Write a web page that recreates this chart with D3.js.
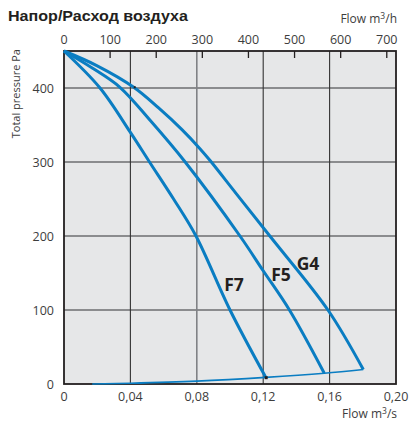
<!DOCTYPE html>
<html><head><meta charset="utf-8">
<script src="https://cdn.jsdelivr.net/npm/d3@7"></script>
<style>
html,body{margin:0;padding:0;background:#fff;}
text{font-family:"Open Sans","Noto Sans",sans-serif;}
</style></head>
<body>
<svg id="c" width="409" height="426"></svg>
<script>
// ---- data (flow m3/s, total pressure Pa) ----
const seriesNames = ["G4", "F5", "F7"];
const g4 = [[0,450],[0.02,430],[0.042,401],[0.057,373],[0.0709,344],[0.0819,318],[0.088,302],[0.1035,258],[0.124,200],[0.159,100],[0.1803,19.6]];
const f5 = [[0,450],[0.017,427],[0.0337,401],[0.052,356],[0.073,300],[0.106,200],[0.12,153],[0.1358,100],[0.1568,14.6]];
const f7 = [[0,450],[0.0217,400],[0.04,340],[0.0515,300],[0.066,250],[0.0795,200],[0.100,100],[0.1215,9.2]];
const systemCurve = [[0.017,0],[0.04,1],[0.08,3.9],[0.1215,9],[0.1568,14.6],[0.1803,19.6]];
const labelPos = [[0.147,154],[0.1307,139],[0.1024,126]]; // label anchor (flow, Pa) for G4, F5, F7
const xTicks = [0, 0.04, 0.08, 0.12, 0.16, 0.20];
const xTickLabels = ["0","0,04","0,08","0,12","0,16","0,20"];
const yTicks = [0, 100, 200, 300, 400];
const topTicks = [0, 100, 200, 300, 400, 500, 600, 700];

const svg = d3.select("#c");
const L = 64, R = 396, T = 51, B = 384;
const x = d3.scaleLinear().domain([0, 0.20]).range([L, R]);
const xh = d3.scaleLinear().domain([0, 720]).range([L, R]);
const y = d3.scaleLinear().domain([0, 450]).range([B, T]);

// title
svg.append("text").attr("x", 8).attr("y", 21).attr("font-size", 15.5).attr("font-weight", "bold")
  .attr("fill", "#231f20").attr("textLength", 180).attr("lengthAdjust", "spacingAndGlyphs")
  .style("font-family", "'Liberation Sans',Arial,sans-serif").text("Напор/Расход воздуха");

// background
svg.append("rect").attr("x", L).attr("y", T).attr("width", R - L).attr("height", B - T).attr("fill", "#e6e7e8");

// grid horizontal
svg.append("g").selectAll("line").data(yTicks.filter(d => d > 0)).join("line")
  .attr("x1", L).attr("x2", R).attr("y1", d => y(d)).attr("y2", d => y(d))
  .attr("stroke", "#6d6e70").attr("stroke-width", 1.3);
// grid vertical
svg.append("g").selectAll("line").data(xTicks.filter(d => d > 0 && d < 0.2)).join("line")
  .attr("x1", d => x(d)).attr("x2", d => x(d)).attr("y1", T).attr("y2", B)
  .attr("stroke", d => Math.abs(d - 0.08) < 1e-9 ? "#808285" : "#333")
  .attr("stroke-width", d => Math.abs(d - 0.08) < 1e-9 ? 1.6 : 1.1);

// top ticks
svg.append("g").selectAll("line").data(topTicks.filter(d => d > 0)).join("line")
  .attr("x1", d => xh(d)).attr("x2", d => xh(d)).attr("y1", T).attr("y2", T + 7)
  .attr("stroke", "#231f20").attr("stroke-width", 1.3);

// border
svg.append("rect").attr("x", L).attr("y", T).attr("width", R - L).attr("height", B - T)
  .attr("fill", "none").attr("stroke", "#231f20").attr("stroke-width", 1.8);

// curves
const line = d3.line().x(d => x(d[0])).y(d => y(d[1])).curve(d3.curveCatmullRom.alpha(0.5));
const blue = "#0a7dc2";
[g4, f5, f7].forEach(s => {
  svg.append("path").attr("d", line(s)).attr("fill", "none").attr("stroke", blue)
    .attr("stroke-width", 3).attr("stroke-linejoin", "round");
});
svg.append("path").attr("d", line(systemCurve)).attr("fill", "none").attr("stroke", blue).attr("stroke-width", 1.6);
// small dark marks
svg.append("rect").attr("x", x(f7[f7.length-1][0]) - 1).attr("y", y(f7[f7.length-1][1]) - 1).attr("width", 3).attr("height", 3).attr("fill", "#231f20");
svg.append("rect").attr("x", x(g4[2][0])).attr("y", y(g4[2][1]) - 1).attr("width", 2).attr("height", 2).attr("fill", "#231f20");

// curve labels
svg.append("g").selectAll("text").data(seriesNames).join("text")
  .attr("x", (d, i) => x(labelPos[i][0])).attr("y", (d, i) => y(labelPos[i][1]))
  .attr("text-anchor", "middle").attr("font-size", 17.5).attr("font-weight", "bold").attr("fill", "#231f20")
  .text(d => d);

// axis labels
const axFill = "#3d3d3d";
svg.append("g").selectAll("text").data(yTicks).join("text")
  .attr("x", 54).attr("y", d => y(d) + 4.5).attr("text-anchor", "end").attr("font-size", 12.5).attr("fill", axFill)
  .text(d => d);
svg.append("g").selectAll("text").data(xTicks).join("text")
  .attr("x", d => x(d)).attr("y", 401).attr("text-anchor", "middle").attr("font-size", 12.5).attr("fill", axFill)
  .text((d, i) => xTickLabels[i]);
svg.append("g").selectAll("text").data(topTicks).join("text")
  .attr("x", d => xh(d)).attr("y", 44).attr("text-anchor", "middle").attr("font-size", 12.5).attr("fill", axFill)
  .text(d => d);

// axis titles
const t1 = svg.append("text").attr("x", 397).attr("y", 23).attr("text-anchor", "end").attr("font-size", 12).attr("fill", axFill);
t1.append("tspan").text("Flow m");
t1.append("tspan").attr("dy", -4).attr("font-size", 8.5).text("3");
t1.append("tspan").attr("dy", 4).text("/h");
const t2 = svg.append("text").attr("x", 397).attr("y", 418).attr("text-anchor", "end").attr("font-size", 12).attr("fill", axFill);
t2.append("tspan").text("Flow m");
t2.append("tspan").attr("dy", -4).attr("font-size", 8.5).text("3");
t2.append("tspan").attr("dy", 4).text("/s");
svg.append("text").attr("transform", "translate(20,49) rotate(-90)").attr("text-anchor", "end")
  .attr("font-size", 11).attr("fill", axFill).text("Total pressure Pa");
</script>
</body></html>
